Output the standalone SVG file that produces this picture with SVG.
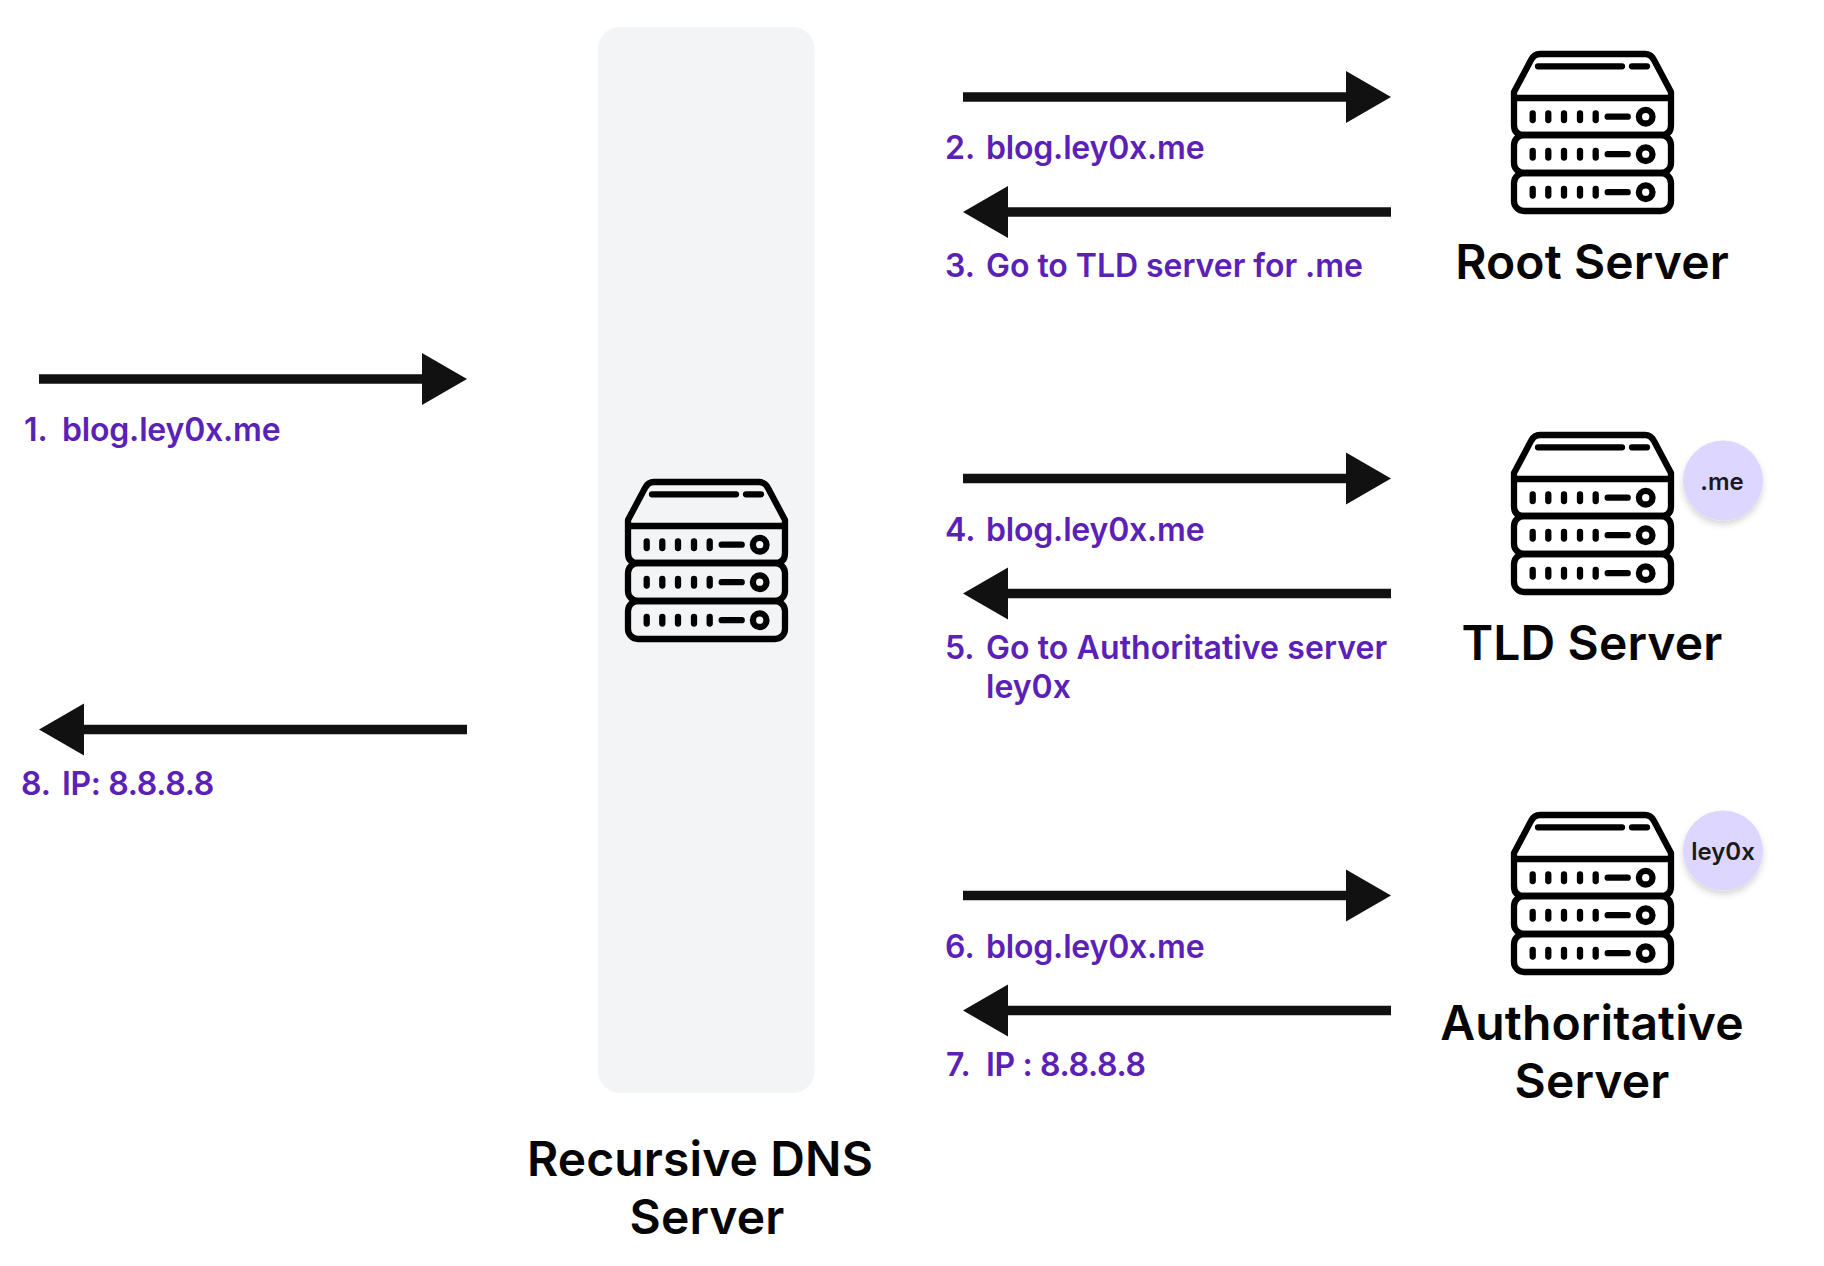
<svg xmlns="http://www.w3.org/2000/svg" xmlns:xlink="http://www.w3.org/1999/xlink" width="1824" height="1266" viewBox="0 0 1824 1266">
<style>
text{font-family:Inter,"Liberation Sans",sans-serif}
.step{font-size:32px;font-weight:600;fill:#5b21b6}
.host{letter-spacing:-.18px}
.ip{letter-spacing:-.35px}
.title{font-size:48px;font-weight:600;fill:#050505;text-anchor:middle;letter-spacing:.12px}
.tag{font-size:24px;font-weight:600;fill:#1a1a1a;text-anchor:middle}
.wire{stroke:#111;stroke-width:9.5;fill:none}
.head{fill:#111}
.ic{fill:none;stroke:#000;stroke-width:6.300;stroke-linecap:round;stroke-linejoin:round}
.badge{fill:#ddd6fe;filter:url(#sh)}
</style>
<defs>
<filter id="sh" x="-30%" y="-30%" width="160%" height="170%"><feDropShadow dx="0" dy="4" stdDeviation="3" flood-color="#000" flood-opacity="0.16"/></filter>
<g id="server" class="ic">
<path d="M1514 98V92L1531 60q3-6 9-6H1645q6 0 9 6L1671 92V98M1514 98H1671V125q0 10-10 10H1524q-10 0-10-10Z"/>
<rect x="1514" y="135" width="157" height="38" rx="10"/>
<rect x="1514" y="173" width="157" height="38" rx="10"/>
<path d="M1538 66.300H1622M1632 66.300H1647"/>
<g id="row"><path d="M1532.700 113.500V120M1548.300 113.500V120M1564 113.500V120M1580 113.500V120M1595.700 113.500V120M1607.700 116.700H1627.700"/><circle cx="1645.700" cy="116.700" r="6.800"/></g>
<use xlink:href="#row" href="#row" y="37.500"/>
<use xlink:href="#row" href="#row" y="75.500"/>
</g>
</defs>
<rect width="1824" height="1266" fill="#fff"/>
<g id="recursive-node">
<rect x="598" y="27" width="216.500" height="1066" rx="22" fill="#f3f4f6"/>
<use href="#server" xlink:href="#server" x="-886" y="428"/>
<text class="title" x="700" y="1176">Recursive DNS</text>
<text class="title" x="707" y="1234">Server</text>
</g>
<g id="root-node">
<use href="#server" xlink:href="#server"/>
<text class="title" x="1592" y="279">Root Server</text>
</g>
<g id="tld-node">
<use href="#server" xlink:href="#server" y="381"/>
<circle class="badge" cx="1723" cy="480.500" r="40"/>
<text class="tag" x="1722" y="490">.me</text>
<text class="title" x="1592" y="660">TLD Server</text>
</g>
<g id="auth-node">
<use href="#server" xlink:href="#server" y="761"/>
<circle class="badge" cx="1723" cy="850.500" r="40"/>
<text class="tag" x="1723" y="860">ley0x</text>
<text class="title" x="1592" y="1040">Authoritative</text>
<text class="title" x="1592" y="1098">Server</text>
</g>
<g id="connectors">
<path class="wire" d="M39 379H425"/><path class="head" d="M467 379L422 353V405Z"/>
<path class="wire" d="M467 729.500H81"/><path class="head" d="M39 729.500L84 703.500V755.500Z"/>
<path class="wire" d="M963 97H1349"/><path class="head" d="M1391 97L1346 71V123Z"/>
<path class="wire" d="M1391 212H1005"/><path class="head" d="M963 212L1008 186V238Z"/>
<path class="wire" d="M963 478.500H1349"/><path class="head" d="M1391 478.500L1346 452.500V504.500Z"/>
<path class="wire" d="M1391 593.500H1005"/><path class="head" d="M963 593.500L1008 567.500V619.500Z"/>
<path class="wire" d="M963 895.500H1349"/><path class="head" d="M1391 895.500L1346 869.500V921.500Z"/>
<path class="wire" d="M1391 1010.500H1005"/><path class="head" d="M963 1010.500L1008 984.500V1036.500Z"/>
</g>
<g id="labels">
<text class="step" x="24" y="441">1.</text><text class="step host" x="62" y="441">blog.ley0x.me</text>
<text class="step" x="945" y="159">2.</text><text class="step host" x="986" y="159">blog.ley0x.me</text>
<text class="step" x="945" y="277">3.</text><text class="step" x="986" y="277" letter-spacing="-.04">Go to TLD server for .me</text>
<text class="step" x="945" y="541">4.</text><text class="step host" x="986" y="541">blog.ley0x.me</text>
<text class="step" x="945" y="659">5.</text><text class="step" x="986" y="659" letter-spacing=".09">Go to Authoritative server</text>
<text class="step" x="986" y="698">ley0x</text>
<text class="step" x="945" y="958">6.</text><text class="step host" x="986" y="958">blog.ley0x.me</text>
<text class="step" x="946" y="1076">7.</text><text class="step ip" x="986" y="1076">IP : 8.8.8.8</text>
<text class="step" x="21" y="795">8.</text><text class="step ip" x="62" y="795">IP: 8.8.8.8</text>
</g>
</svg>
